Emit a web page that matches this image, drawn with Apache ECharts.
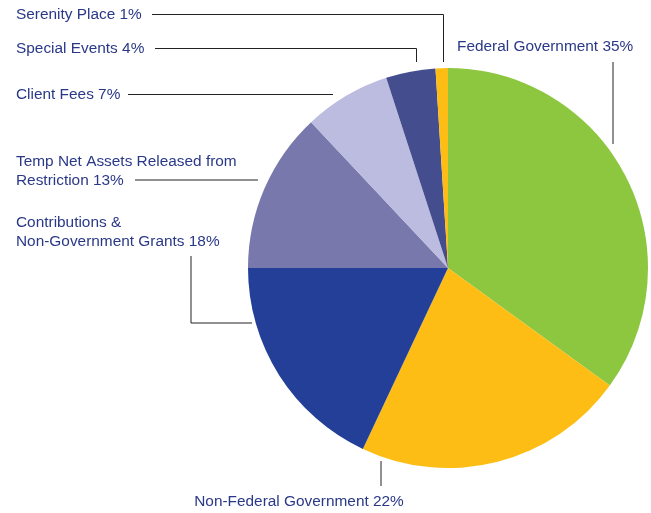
<!DOCTYPE html>
<html>
<head>
<meta charset="utf-8">
<script src="https://cdn.jsdelivr.net/npm/echarts@6/dist/echarts.min.js"></script>
<style>
html,body{margin:0;padding:0;background:#fff;}
#chart{width:651px;height:513px;}
</style>
</head>
<body>
<div id="chart"></div>
<script>
// Data
var categories = [
  'Federal Government',
  'Non-Federal Government',
  'Contributions &\nNon-Government Grants',
  'Temp Net Assets Released from\nRestriction',
  'Client Fees',
  'Special Events',
  'Serenity Place'
];
var values = [35, 22, 18, 13, 7, 4, 1];
var colors = ['#8dc63f', '#fdbd14', '#233f98', '#7878ac', '#bbbcdf', '#444d8d', '#fdbd14'];

// Label layout (positions of texts and leader lines)
var labelLayouts = [
  {x: 457, y: 47, align: 'left', pts: [[613, 62], [613, 144]]},
  {x: 299, y: 502, align: 'center', pts: [[381, 461], [381, 486]]},
  {x: 16, y: 232.5, align: 'left', pts: [[191, 256], [191, 323], [252, 323]]},
  {x: 16, y: 171.5, align: 'left', pts: [[135, 180], [258, 180]]},
  {x: 16, y: 95, align: 'left', pts: [[128, 94.5], [333, 94.5]]},
  {x: 16, y: 49, align: 'left', pts: [[155, 48.5], [416.5, 48.5], [416.5, 62]]},
  {x: 16, y: 15, align: 'left', pts: [[152, 14.5], [443.5, 14.5], [443.5, 62]]}
];

var chart = echarts.init(document.getElementById('chart'));
chart.setOption({
  animation: false,
  series: [{
    type: 'pie',
    center: [448, 268],
    radius: 200,
    startAngle: 90,
    clockwise: true,
    avoidLabelOverlap: false,
    data: categories.map(function (c, i) {
      return {name: c, value: values[i], itemStyle: {color: colors[i]}};
    }),
    label: {
      show: true,
      formatter: function (p) { return p.name + ' ' + p.value + '%'; },
      color: '#2a3888',
      fontFamily: 'Liberation Sans, Arial, sans-serif',
      fontSize: 15.4,
      lineHeight: 19
    },
    labelLine: {
      show: true,
      lineStyle: {color: '#222', width: 1}
    },
    labelLayout: function (params) {
      var L = labelLayouts[params.dataIndex];
      return {
        x: L.x,
        y: L.y,
        align: L.align,
        verticalAlign: 'middle',
        labelLinePoints: L.pts
      };
    },
    itemStyle: {borderWidth: 0}
  }]
});
</script>
</body>
</html>
